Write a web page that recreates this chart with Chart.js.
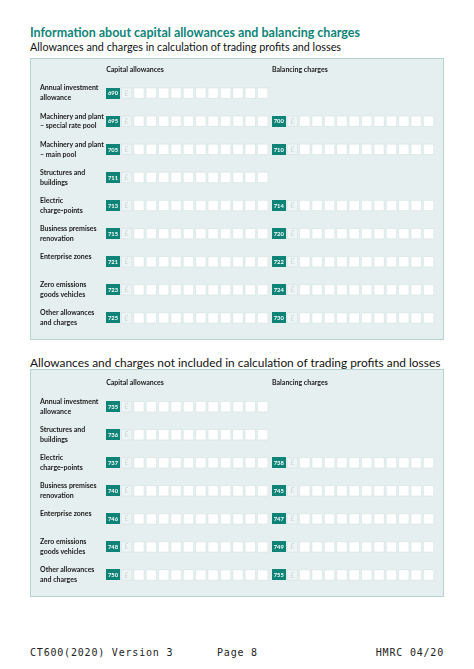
<!DOCTYPE html>
<html>
<head>
<meta charset="UTF-8">
<title>Capital allowances and balancing charges</title>
<script src="https://cdn.jsdelivr.net/npm/chart.js@4.4.1/dist/chart.umd.min.js"></script>
<style>
  body { margin: 0; background: #fff; width: 474px; height: 669px; position: relative; font-family: Lato, sans-serif; overflow: hidden; }
  .t { position: absolute; white-space: nowrap; }
  #title { left: 30px; top: 25px; font-size: 12.5px; line-height: 16px; font-weight: bold; color: #0e8478; }
  #sub1 { left: 30px; top: 40px; font-size: 10.8px; line-height: 14px; color: #111; }
  #sub2 { left: 30px; top: 354.5px; font-size: 11.9px; line-height: 15px; color: #111; }
  .foot { top: 646.5px; font-family: "DejaVu Sans Mono", monospace; font-size: 10px; line-height: 12px; letter-spacing: 0.8px; color: #222; }
  canvas { position: absolute; }
  #c1 { left: 30px; top: 58px; }
  #c2 { left: 30px; top: 369px; }
</style>
</head>
<body>
<div class="t" id="title">Information about capital allowances and balancing charges</div>
<div class="t" id="sub1">Allowances and charges in calculation of trading profits and losses</div>
<canvas id="c1" width="414" height="282"></canvas>
<div class="t" id="sub2">Allowances and charges not included in calculation of trading profits and losses</div>
<canvas id="c2" width="414" height="228"></canvas>
<div class="t foot" style="left:30px">CT600(2020) Version 3</div>
<div class="t foot" style="left:217px">Page 8</div>
<div class="t foot" style="right:30px">HMRC 04/20</div>

<script>
// column headings and number of digit boxes per field
const headers = ['Capital allowances', 'Balancing charges'];
const digitCount = 11;

// first box: included in trading profits and losses
const rowsIn = [
  ['Annual investment', 'allowance'],
  ['Machinery and plant', '– special rate pool'],
  ['Machinery and plant', '– main pool'],
  ['Structures and', 'buildings'],
  ['Electric', 'charge-points'],
  ['Business premises', 'renovation'],
  ['Enterprise zones', ''],
  ['Zero emissions', 'goods vehicles'],
  ['Other allowances', 'and charges']
];
const capCodesIn = ['690', '695', '705', '711', '713', '715', '721', '723', '725'];
const balCodesIn = [null, '700', '710', null, '714', '720', '722', '724', '730'];

// second box: not included
const rowsOut = [
  ['Annual investment', 'allowance'],
  ['Structures and', 'buildings'],
  ['Electric', 'charge-points'],
  ['Business premises', 'renovation'],
  ['Enterprise zones', ''],
  ['Zero emissions', 'goods vehicles'],
  ['Other allowances', 'and charges']
];
const capCodesOut = ['735', '736', '737', '740', '746', '748', '750'];
const balCodesOut = [null, null, '738', '745', '747', '749', '755'];

// layout (x is counted in box slots)
const TEAL = '#0e8478';
const fieldStart = [0, 13.4];
const poundSlot = -1;
const codeSlot = -2.1;
const xMin = codeSlot - 0.55, xMax = 24;
const pitch = 12.4, firstBoxX = 109, labelLeft = 10, canvasW = 414;
const FONT = 'Lato';

function buildPoints(capCodes, balCodes) {
  const digits = [], pounds = [], codes = [];
  [capCodes, balCodes].forEach((list, col) => {
    list.forEach((code, row) => {
      if (!code) return;
      const s = fieldStart[col];
      codes.push({ x: s + codeSlot, y: row, code: code });
      pounds.push({ x: s + poundSlot, y: row });
      for (let d = 0; d < digitCount; d++) digits.push({ x: s + d, y: row });
    });
  });
  return { digits, pounds, codes };
}

function codeSprite() {
  const c = document.createElement('canvas');
  c.width = 14; c.height = 11;
  const g = c.getContext('2d');
  g.fillStyle = TEAL;
  g.fillRect(0, 0, 14, 11);
  return c;
}

const panelBg = {
  id: 'panelBg',
  beforeDraw(chart) {
    const { ctx, width, height } = chart;
    ctx.save();
    ctx.fillStyle = '#e6efef';
    ctx.fillRect(0, 0, width, height);
    ctx.strokeStyle = '#b3d4d0';
    ctx.lineWidth = 1;
    ctx.strokeRect(0.5, 0.5, width - 1, height - 1);
    ctx.restore();
  }
};

const boxText = {
  id: 'boxText',
  afterDatasetsDraw(chart) {
    const ctx = chart.ctx;
    ctx.save();
    ctx.textAlign = 'center';
    ctx.textBaseline = 'middle';
    ctx.font = 'bold 5.8px ' + FONT;
    ctx.fillStyle = '#fff';
    const codeData = chart.data.datasets[2].data;
    chart.getDatasetMeta(2).data.forEach((el, i) => ctx.fillText(codeData[i].code, el.x, el.y + 0.3));
    ctx.font = '7px ' + FONT;
    ctx.fillStyle = '#c6d8d6';
    chart.getDatasetMeta(1).data.forEach(el => ctx.fillText('£', el.x, el.y + 0.3));
    ctx.restore();
  }
};

function makePanel(id, rows, capCodes, balCodes, g) {
  const pts = buildPoints(capCodes, balCodes);
  const areaLeft = firstBoxX + xMin * pitch;
  const areaRight = firstBoxX + xMax * pitch;
  const ctx = document.getElementById(id).getContext('2d');
  return new Chart(ctx, {
    type: 'scatter',
    data: {
      datasets: [
        { data: pts.digits, pointStyle: 'rect', pointRadius: 7.35, backgroundColor: '#ffffff', borderColor: '#d2e3e1', borderWidth: 0.6, clip: false },
        { data: pts.pounds, pointStyle: 'rect', pointRadius: 7.35, backgroundColor: '#eff5f5', borderColor: '#d2e3e1', borderWidth: 0.6, clip: false },
        { data: pts.codes, pointStyle: codeSprite(), pointRadius: 7, clip: false }
      ]
    },
    options: {
      responsive: false,
      animation: false,
      devicePixelRatio: 1,
      events: [],
      layout: { padding: { left: labelLeft, right: canvasW - areaRight, top: 0, bottom: g.h - g.areaBottom } },
      plugins: { legend: { display: false }, tooltip: { enabled: false } },
      scales: {
        x: {
          type: 'linear', position: 'top', min: xMin, max: xMax,
          grid: { display: false, drawTicks: false }, border: { display: false },
          afterBuildTicks: s => { s.ticks = fieldStart.map(v => ({ value: v + codeSlot - 0.55 })); },
          afterFit: s => { s.height = g.areaTop; s.paddingLeft = 0; s.paddingRight = 0; },
          ticks: {
            align: 'start', padding: 5.3, autoSkip: false, maxRotation: 0,
            color: '#1a1a1a', font: { family: FONT, size: 7, weight: 'bold' },
            callback: (v, i) => headers[i]
          }
        },
        y: {
          type: 'linear', reverse: true, min: -0.5, max: rows.length - 0.5,
          grid: { display: false, drawTicks: false }, border: { display: false },
          afterBuildTicks: s => { s.ticks = rows.map((r, i) => ({ value: i })); },
          afterFit: s => { s.width = areaLeft - labelLeft; s.paddingTop = 0; s.paddingBottom = 0; },
          ticks: {
            crossAlign: 'far', padding: 0, autoSkip: false,
            color: '#1a1a1a', font: { family: FONT, size: 7, weight: 'bold', lineHeight: 1.42 },
            callback: v => rows[v]
          }
        }
      }
    },
    plugins: [panelBg, boxText]
  });
}

makePanel('c1', rowsIn, capCodesIn, balCodesIn, { h: 282, areaTop: 21.1, areaBottom: 280.4 });
makePanel('c2', rowsOut, capCodesOut, balCodesOut, { h: 228, areaTop: 23.7, areaBottom: 224.3 });
</script>
</body>
</html>
